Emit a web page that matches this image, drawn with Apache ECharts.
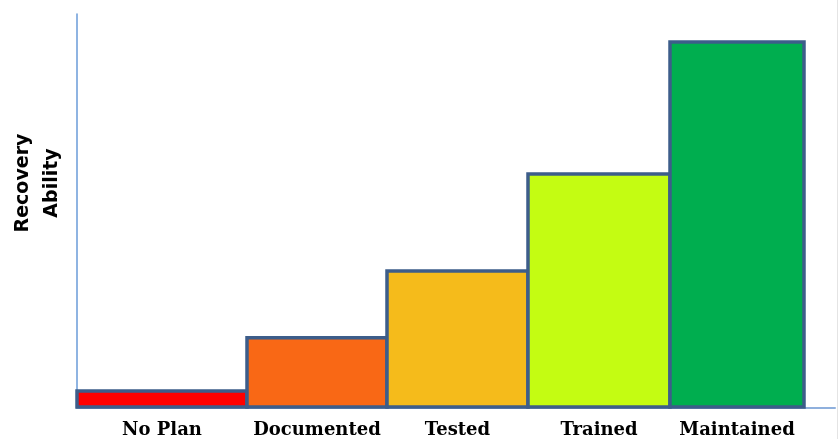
<!DOCTYPE html>
<html>
<head>
<meta charset="utf-8">
<script src="https://cdn.jsdelivr.net/npm/echarts@6/dist/echarts.min.js"></script>
<style>
  html, body { margin: 0; padding: 0; background: #fff; }
  #main { width: 838px; height: 439px; }
</style>
</head>
<body>
<div id="main"></div>
<script>
// stages of the recovery plan, left to right
var categories = ['No Plan', 'Documented', 'Tested', 'Trained', 'Maintained']
// recovery ability (0-100 scale)
var values = [4.3, 17.8, 34.8, 59.4, 92.9]
// relative width of each stage's column
var widths = [170, 140, 141, 142, 134]
var colors = ['#ff0000', '#f96815', '#f5bb1b', '#c4fc12', '#00ae4f']

var items = []
var start = 0
for (var i = 0; i < categories.length; i++) {
  items.push([start, start + widths[i], values[i], i])
  start += widths[i]
}

var chart = echarts.init(document.getElementById('main'))
chart.setOption({
  animation: false,
  grid: { left: 77, right: 3, top: 14, bottom: 31 },
  xAxis: {
    type: 'value',
    min: 0,
    max: 758,
    axisLine: { show: true, lineStyle: { color: '#8fb0dd', width: 2 } },
    axisTick: { show: false },
    axisLabel: { show: false },
    splitLine: { show: false }
  },
  yAxis: {
    type: 'value',
    min: 0,
    max: 100,
    axisLine: { show: true, lineStyle: { color: '#6a9bd8', width: 1.5 } },
    axisTick: { show: false },
    axisLabel: { show: false },
    splitLine: { show: false }
  },
  graphic: [
    {
      type: 'text',
      x: 38,
      y: 183,
      rotation: Math.PI / 2,
      style: {
        text: 'Recovery\nAbility',
        font: 'bold 19px "DejaVu Sans", Verdana, sans-serif',
        fill: '#000',
        align: 'center',
        verticalAlign: 'middle',
        lineHeight: 29
      }
    },
    {
      type: 'line',
      shape: { x1: 837.5, y1: 0, x2: 837.5, y2: 439 },
      style: { stroke: '#e4e4e4', lineWidth: 1 }
    }
  ],
  series: [
    {
      type: 'custom',
      data: items,
      renderItem: function (params, api) {
        var idx = api.value(3)
        var p0 = api.coord([api.value(0), api.value(2)])
        var p1 = api.coord([api.value(1), 0])
        return {
          type: 'group',
          children: [
            {
              type: 'rect',
              shape: { x: p0[0], y: p0[1], width: p1[0] - p0[0], height: p1[1] - p0[1] - 1 },
              style: { fill: colors[idx], stroke: '#3d5d8a', lineWidth: 3.5 }
            },
            {
              type: 'text',
              x: (p0[0] + p1[0]) / 2,
              y: p1[1] + 22,
              style: {
                text: categories[idx],
                font: 'bold 18px "DejaVu Serif", serif',
                fill: '#000',
                align: 'center',
                verticalAlign: 'middle'
              }
            }
          ]
        }
      }
    }
  ]
})
</script>
</body>
</html>
